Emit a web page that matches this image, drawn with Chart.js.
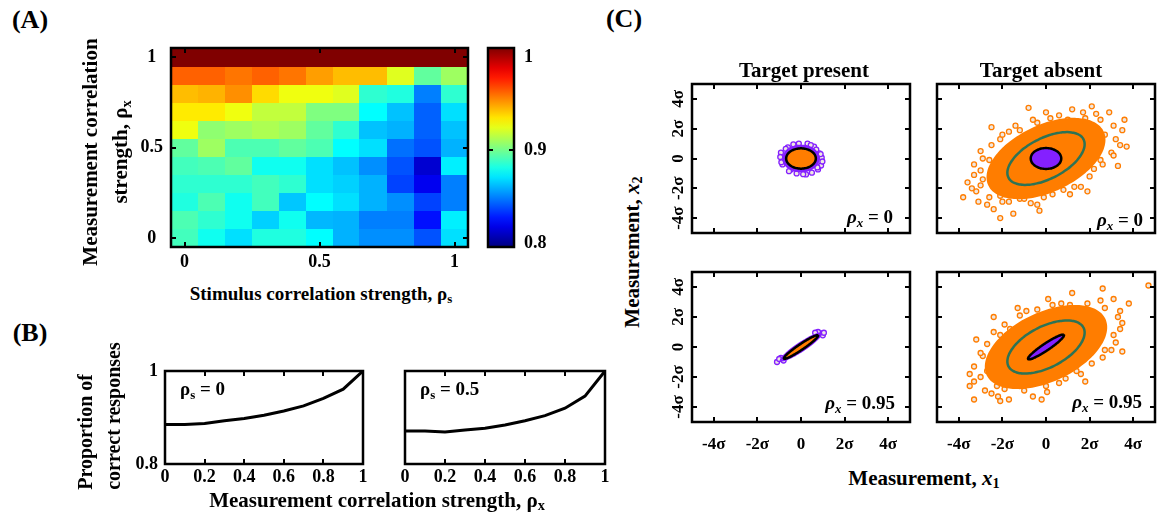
<!DOCTYPE html>
<html>
<head>
<meta charset="utf-8">
<script src="https://cdn.jsdelivr.net/npm/chart.js@4.4.0/dist/chart.umd.min.js"></script>
<style>
  body { margin: 0; width: 1163px; height: 521px; position: relative; overflow: hidden; background: #fff;
         font-family: "Liberation Serif", "Times New Roman", serif; font-weight: bold; color: #000; }
  canvas { position: absolute; }
  .c { position: absolute; transform: translate(-50%, -50%); white-space: nowrap; line-height: 1; z-index: 5; }
  .r { position: absolute; transform: translate(-50%, -50%) rotate(-90deg); white-space: nowrap; z-index: 5; }
  .lt { position: absolute; white-space: nowrap; line-height: 1; z-index: 5; }
  sub { font-size: 0.68em; vertical-align: -0.28em; line-height: 0; }
  i { font-style: italic; }
</style>
</head>
<body>

<!-- 面板标签与坐标轴标题 -->
<div class="c" style="left:30px;top:20px;font-size:26px">(A)</div>
<div class="c" style="left:30px;top:333px;font-size:26px">(B)</div>
<div class="c" style="left:624px;top:19px;font-size:26px">(C)</div>

<div class="r" style="left:105px;top:152px;font-size:21px;line-height:30px;text-align:center">Measurement correlation<br>strength, ρ<sub>x</sub></div>
<div class="c" style="left:321px;top:293px;font-size:19px">Stimulus correlation strength, ρ<sub>s</sub></div>

<div class="r" style="left:99px;top:416px;font-size:20px;line-height:28px;text-align:left">Proportion of<br>correct responses</div>
<div class="c" style="left:377px;top:500px;font-size:21px">Measurement correlation strength, ρ<sub>x</sub></div>
<div class="lt" style="left:180px;top:379px;font-size:19px">ρ<sub>s</sub> = 0</div>
<div class="lt" style="left:420px;top:379px;font-size:19px">ρ<sub>s</sub> = 0.5</div>

<div class="c" style="left:804px;top:70px;font-size:21px">Target present</div>
<div class="c" style="left:1041px;top:70px;font-size:21px">Target absent</div>
<div class="r" style="left:632px;top:252px;font-size:21px">Measurement, <i>x</i><sub>2</sub></div>
<div class="c" style="left:924px;top:478px;font-size:21px">Measurement, <i>x</i><sub>1</sub></div>
<div class="lt" style="right:270px;top:207px;font-size:19px"><i>ρ<sub>x</sub></i> = 0</div>
<div class="lt" style="right:20px;top:210px;font-size:19px"><i>ρ<sub>x</sub></i> = 0</div>
<div class="lt" style="right:268px;top:393px;font-size:19px"><i>ρ<sub>x</sub></i> = 0.95</div>
<div class="lt" style="right:21px;top:392px;font-size:19px"><i>ρ<sub>x</sub></i> = 0.95</div>

<script>
// ===== 数据 =====
// (A) 热图：行 = 测量相关 ρx（0 → 1），列 = 刺激相关 ρs（0 → 1）
const rhoS = [0, 0.1, 0.2, 0.3, 0.4, 0.5, 0.6, 0.7, 0.8, 0.9, 1];
const rhoX = [0, 0.1, 0.2, 0.3, 0.4, 0.5, 0.6, 0.7, 0.8, 0.9, 1];
const heatValues = [
  [0.888, 0.878, 0.869, 0.881, 0.881, 0.875, 0.860, 0.853, 0.853, 0.841, 0.869],
  [0.890, 0.884, 0.878, 0.866, 0.878, 0.861, 0.860, 0.850, 0.850, 0.828, 0.872],
  [0.881, 0.890, 0.878, 0.888, 0.864, 0.875, 0.869, 0.860, 0.853, 0.838, 0.850],
  [0.884, 0.884, 0.884, 0.888, 0.884, 0.869, 0.866, 0.860, 0.838, 0.822, 0.850],
  [0.888, 0.890, 0.894, 0.878, 0.878, 0.869, 0.863, 0.853, 0.841, 0.816, 0.872],
  [0.894, 0.906, 0.890, 0.890, 0.894, 0.890, 0.875, 0.869, 0.847, 0.841, 0.860],
  [0.922, 0.903, 0.906, 0.909, 0.906, 0.894, 0.884, 0.863, 0.860, 0.844, 0.863],
  [0.929, 0.929, 0.922, 0.913, 0.913, 0.900, 0.900, 0.875, 0.863, 0.844, 0.869],
  [0.938, 0.940, 0.947, 0.932, 0.922, 0.922, 0.919, 0.884, 0.881, 0.850, 0.884],
  [0.956, 0.956, 0.952, 0.956, 0.952, 0.944, 0.938, 0.938, 0.919, 0.894, 0.906],
  [1.000, 1.000, 1.000, 1.000, 1.000, 1.000, 1.000, 1.000, 1.000, 1.000, 1.000]
];
const heatTicks = [0, 0.5, 1];
const colorbarTicks = [0.8, 0.9, 1];

// (B) 正确率曲线
const bX = [0, 0.1, 0.2, 0.3, 0.4, 0.5, 0.6, 0.7, 0.8, 0.9, 1];
const correctRhoS0 = [0.885, 0.885, 0.887, 0.893, 0.898, 0.905, 0.914, 0.925, 0.941, 0.961, 1.0];
const correctRhoS05 = [0.871, 0.871, 0.869, 0.873, 0.877, 0.884, 0.893, 0.904, 0.920, 0.946, 1.0];
const bXTicks = [0, 0.2, 0.4, 0.6, 0.8, 1];
const bYTicks = [0.8, 1];

// (C) 椭圆：[中心x, 中心y, 长半轴, 短半轴, 倾角(度)]，单位 σ
const presentCloud0 = [0, 0, 0.86, 0.93, 0];
const presentContour0 = [0, 0, 0.68, 0.68, 0];
const absentCloud0 = [0, 0, 3.3, 2.0, 45];
const absentGreen0 = [0, 0, 2.2, 1.2, 45];
const absentContour0 = [0, 0, 0.7, 0.7, 0];
const presentCloud95 = [0, 0, 1.35, 0.28, 45];
const presentContour95 = [0, 0, 1.1, 0.16, 45];
const absentCloud95 = [0, 0, 3.4, 2.05, 45];
const absentGreen95 = [0, 0, 2.2, 1.2, 45];
const absentContour95 = [0, 0, 1.15, 0.2, 45];

// (C) 散点云边缘的离散样本点
const presentPts0 = [[-0.92, 0.4], [0.92, -0.47], [0.78, -0.73], [0.23, -1.07], [0.6, 0.8], [-0.1, 1.0],
  [-0.78, -0.07], [-0.46, -0.73], [0.85, 0.35], [-0.6, 0.75], [0.3, 1.0], [-0.85, -0.4], [0.5, -0.95],
  [-0.2, -1.0], [0.95, 0.05], [0.7, 0.6], [-0.95, 0.1], [0.9, 0.3], [-0.7, 0.65], [0.45, 0.9],
  [-0.35, 0.95], [0.75, -0.6], [-0.55, -0.85], [0.1, -1.05], [0.98, -0.2], [-0.9, -0.25]];
const absentPts0 = [[-3.8, -2.6], [-2.1, -4.0], [-1.5, -3.7], [-0.8, 3.4], [2.1, 3.5], [2.9, 3.1], [3.5, 1.9],
  [3.7, 0.8], [3.4, 0.9], [3.0, 0.4], [-3.0, 0.5], [-3.3, -0.4], [-3.3, -1.1], [-3.2, -2.2], [-2.7, -3.1],
  [-1.7, -2.9], [-0.7, -3.0], [-0.4, -3.1], [0.3, -2.4], [1.1, -2.4], [-2.1, 1.3], [-1.7, 1.8], [-1.2, 1.9],
  [-0.4, 2.4], [0.6, 2.9], [1.2, 3.3], [1.7, 3.1], [2.5, 2.6], [2.7, 1.6], [2.5, -0.1], [2.2, -0.7],
  [1.6, -1.9], [-2.6, -0.1], [-2.9, -1.4], [-2.1, -2.5], [-1.2, -2.7],
  [-3.4, -2.0], [-3.0, -1.8], [-2.6, -2.6], [-3.1, -2.9], [-2.0, -2.9], [-1.0, -2.7], [-0.1, -2.6],
  [0.8, -2.1], [1.3, -1.9], [2.0, -1.2], [2.6, -0.4], [3.1, 0.2], [3.2, 1.3], [3.1, 2.2], [2.3, 3.0],
  [1.8, 2.7], [1.0, 2.6], [0.2, 2.7], [-0.6, 2.6], [-1.4, 2.2], [-2.0, 1.6], [-2.5, 0.9], [-2.9, 0.0],
  [-3.0, -0.8], [-3.6, -1.6], [-2.4, -3.4], [-0.3, -3.5], [1.9, -2.2], [3.3, -0.5], [3.6, 2.6], [0.0, 3.1],
  [-2.5, 2.1]];
const presentPts95 = [[-1.1, -1.0], [0.92, 0.9], [0.78, 1.0], [-0.92, -0.72], [1.0, 0.78], [-0.8, -0.9],
  [0.65, 0.95], [1.05, 0.95], [-1.0, -0.8]];
const absentPts95 = [[4.7, 4.1], [2.6, 3.9], [3.1, 3.2], [3.4, 2.4], [3.5, 1.6], [2.7, 2.6], [1.2, 3.6],
  [0.7, 2.9], [-0.9, 2.4], [-1.3, 2.6], [-1.65, 1.2], [-2.1, 0.8], [-3.2, 0.5], [-2.9, -0.6], [-3.3, -1.3],
  [-3.5, -1.8], [-3.3, -2.3], [-3.3, -3.5], [-2.5, -3.1], [-1.7, -3.5], [-2.2, -3.3], [-0.6, -3.3],
  [0.05, -3.0], [0.6, -2.4], [1.6, -1.8], [2.6, -0.7], [3.0, -0.2], [3.1, 0.8], [2.2, 1.1], [-2.25, -2.6],
  [-1.2, -2.6],
  [-3.0, -2.0], [-2.7, -1.6], [-3.5, -2.6], [-2.8, -2.9], [-1.9, -2.8], [-1.0, -2.9], [0.0, -2.6],
  [0.9, -2.1], [1.4, -1.6], [2.1, -1.1], [2.7, -0.2], [3.2, 0.3], [3.4, 1.2], [3.3, 2.0], [2.5, 3.1],
  [1.9, 2.9], [1.1, 2.8], [0.3, 2.8], [-0.4, 2.5], [-1.2, 2.1], [-1.9, 1.5], [-2.4, 1.0], [-2.7, 0.2],
  [-3.0, -0.4], [-2.1, -3.6], [-0.2, -3.5], [1.8, -2.3], [3.5, -0.3], [3.8, 2.9], [0.1, 3.2], [-2.4, 2.0]];
const cTicks = [-4, -2, 0, 2, 4];
const cTickLabels = ['-4σ', '-2σ', '0', '2σ', '4σ'];

// ===== 样式 =====
const ORANGE = '#ff7d00';
const PURPLE = '#8420ff';
const GREEN = '#2d7355';

Chart.defaults.font.family = '"Liberation Serif", "Times New Roman", serif';
Chart.defaults.font.weight = 'bold';
Chart.defaults.color = '#000';

// jet 色图
function jet(t) {
  const c = v => Math.round(255 * Math.min(1, Math.max(0, v)));
  t = Math.min(1, Math.max(0, t));
  return `rgb(${c(1.5 - Math.abs(4 * t - 3))},${c(1.5 - Math.abs(4 * t - 2))},${c(1.5 - Math.abs(4 * t - 1))})`;
}

// 椭圆轮廓点
function ellipsePts(e) {
  const pts = [];
  const th = e[4] * Math.PI / 180;
  for (let i = 0; i <= 90; i++) {
    const t = i / 90 * 2 * Math.PI;
    const u = e[2] * Math.cos(t), v = e[3] * Math.sin(t);
    pts.push({ x: e[0] + u * Math.cos(th) - v * Math.sin(th), y: e[1] + u * Math.sin(th) + v * Math.cos(th) });
  }
  return pts;
}

// 刻度文字：1 而不是 1.0
const plainNum = v => String(Math.round(v * 100) / 100);

// 边框与向内刻度
function framePlugin(xTicks, yTicks) {
  return {
    id: 'frame',
    afterDatasetsDraw(chart) {
      const { ctx, chartArea: a, scales } = chart;
      ctx.save();
      ctx.strokeStyle = '#000';
      ctx.lineWidth = 2;
      ctx.beginPath();
      xTicks.forEach(v => {
        const px = Math.round(scales.x.getPixelForValue(v));
        ctx.moveTo(px, a.top); ctx.lineTo(px, a.top + 5);
        ctx.moveTo(px, a.bottom); ctx.lineTo(px, a.bottom - 5);
      });
      yTicks.forEach(v => {
        const py = Math.round(scales.y.getPixelForValue(v));
        ctx.moveTo(a.left, py); ctx.lineTo(a.left + 5, py);
        ctx.moveTo(a.right, py); ctx.lineTo(a.right - 5, py);
      });
      ctx.stroke();
      ctx.lineWidth = 2.5;
      ctx.strokeRect(a.left, a.top, a.right - a.left, a.bottom - a.top);
      ctx.restore();
    }
  };
}

// 热图格子
const heatPlugin = {
  id: 'heat',
  beforeDatasetsDraw(chart) {
    const { ctx, scales: { x, y } } = chart;
    chart.data.datasets[0].data.forEach(p => {
      const x0 = Math.floor(x.getPixelForValue(p.x - 0.05)), x1 = Math.ceil(x.getPixelForValue(p.x + 0.05));
      const y0 = Math.floor(y.getPixelForValue(p.y + 0.05)), y1 = Math.ceil(y.getPixelForValue(p.y - 0.05));
      ctx.fillStyle = jet((p.v - 0.8) / 0.2);
      ctx.fillRect(x0, y0, x1 - x0, y1 - y0);
    });
  }
};

// 色条
const colorbarPlugin = {
  id: 'cbar',
  beforeDatasetsDraw(chart) {
    const { ctx, chartArea: a } = chart;
    const g = ctx.createLinearGradient(0, a.bottom, 0, a.top);
    for (let k = 0; k <= 20; k++) g.addColorStop(k / 20, jet(k / 20));
    ctx.fillStyle = g;
    ctx.fillRect(a.left, a.top, a.right - a.left, a.bottom - a.top);
  }
};

// 把图表放到页面上：area = 绘图区 [左, 上, 右, 下]，space = 四周留白 [左, 上, 右, 下]
function place(area, space, config, yPos = 'left') {
  const c = document.createElement('canvas');
  const w = area[2] - area[0] + space[0] + space[2];
  const h = area[3] - area[1] + space[1] + space[3];
  c.width = w; c.height = h;
  c.style.left = (area[0] - space[0]) + 'px';
  c.style.top = (area[1] - space[1]) + 'px';
  c.style.width = w + 'px'; c.style.height = h + 'px';
  document.body.appendChild(c);
  const o = config.options;
  o.responsive = false;
  o.animation = false;
  o.events = [];
  o.plugins = Object.assign({ legend: { display: false }, tooltip: { enabled: false } }, o.plugins || {});
  o.layout = { padding: { left: yPos === 'left' ? 0 : space[0], right: yPos === 'right' ? 0 : space[2], top: space[1], bottom: 0 } };
  o.scales.x.afterFit = s => { s.height = space[3]; s.paddingLeft = s.paddingRight = s.paddingTop = s.paddingBottom = 0; };
  o.scales.y.afterFit = s => { s.width = yPos === 'left' ? space[0] : space[2]; s.paddingLeft = s.paddingRight = s.paddingTop = s.paddingBottom = 0; };
  o.scales.y.position = yPos;
  for (const k of ['x', 'y']) {
    o.scales[k].grid = { display: false, drawTicks: false };
    o.scales[k].border = { display: false };
  }
  return new Chart(c, config);
}

function fixedTicks(vals) {
  return s => { s.ticks = vals.map(v => ({ value: v })); };
}

// ===== (A) 热图 =====
const heatData = [];
rhoX.forEach((ry, i) => rhoS.forEach((rs, j) => heatData.push({ x: rs, y: ry, v: heatValues[i][j] })));

place([171, 48, 468, 247], [40, 12, 8, 30], {
  type: 'scatter',
  data: { datasets: [{ data: heatData, pointRadius: 0 }] },
  options: {
    scales: {
      x: { type: 'linear', min: -0.05, max: 1.05, afterBuildTicks: fixedTicks(heatTicks),
           ticks: { font: { size: 18 }, padding: 5, maxRotation: 0, callback: plainNum } },
      y: { type: 'linear', min: -0.05, max: 1.05, afterBuildTicks: fixedTicks(heatTicks),
           ticks: { font: { size: 18 }, padding: 8, crossAlign: 'center', callback: plainNum } }
    }
  },
  plugins: [heatPlugin, framePlugin(heatTicks, heatTicks)]
});

// 色条
place([488, 48, 514, 247], [2, 12, 40, 12], {
  type: 'scatter',
  data: { datasets: [{ data: [], pointRadius: 0 }] },
  options: {
    scales: {
      x: { type: 'linear', min: 0, max: 1, ticks: { display: false } },
      y: { type: 'linear', min: 0.7957, max: 1.0097, afterBuildTicks: fixedTicks(colorbarTicks),
           ticks: { font: { size: 18 }, padding: 10, callback: plainNum } }
    }
  },
  plugins: [colorbarPlugin, framePlugin([], [0.9])]
}, 'right');

// ===== (B) 曲线 =====
function curveChart(area, space, values, showY) {
  return place(area, space, {
    type: 'scatter',
    data: { datasets: [{ type: 'line', data: bX.map((x, i) => ({ x, y: values[i] })),
      borderColor: '#000', borderWidth: 3, pointRadius: 0, tension: 0, fill: false }] },
    options: {
      scales: {
        x: { type: 'linear', min: 0, max: 1, afterBuildTicks: fixedTicks(bXTicks),
             ticks: { font: { size: 18 }, padding: 3, maxRotation: 0, callback: plainNum } },
        y: { type: 'linear', min: 0.8, max: 1, afterBuildTicks: fixedTicks(bYTicks),
             ticks: { display: showY, font: { size: 18 }, padding: 7, callback: plainNum } }
      }
    },
    plugins: [framePlugin([0.2, 0.4, 0.6, 0.8], [])]
  });
}
curveChart([165, 371, 363, 464], [38, 12, 12, 26], correctRhoS0, true);
curveChart([405, 371, 605, 464], [10, 12, 12, 26], correctRhoS05, false);

// ===== (C) 散点 =====
function ptsData(arr) { return arr.map(p => ({ x: p[0], y: p[1] })); }

// tension > 0 以避免折线快速路径把闭合轮廓压扁
function ellipseSet(e, fillColor, border, width) {
  return { type: 'line', data: ellipsePts(e), fill: fillColor ? 'shape' : false, backgroundColor: fillColor || 'transparent',
           borderColor: border || 'transparent', borderWidth: width || 0, pointRadius: 0, tension: 0.3 };
}

function pointSet(arr, color) {
  return { data: ptsData(arr), pointRadius: 2.5, borderWidth: 1.3, borderColor: color, backgroundColor: '#efe7e1' };
}

function sampleChart(area, space, datasets, showX, showY) {
  return place(area, space, {
    type: 'scatter',
    data: { datasets },
    options: {
      scales: {
        x: { type: 'linear', min: -5, max: 5, afterBuildTicks: fixedTicks(cTicks),
             ticks: { display: showX, font: { size: 17 }, padding: 12, maxRotation: 0, callback: (v, i) => cTickLabels[i] } },
        y: { type: 'linear', min: -5, max: 5, afterBuildTicks: fixedTicks(cTicks),
             ticks: { display: showY, font: { size: 17 }, padding: 2, minRotation: 90, maxRotation: 90,
                      crossAlign: 'center', callback: (v, i) => cTickLabels[i] } }
      }
    },
    plugins: [framePlugin(cTicks, cTicks)]
  });
}

// 目标存在，ρx = 0
sampleChart([692, 84, 910, 233], [32, 8, 8, 8], [
  ellipseSet(presentContour0, ORANGE, '#000', 2.5),
  ellipseSet(presentCloud0, PURPLE),
  pointSet(presentPts0, PURPLE)
], false, true);

// 目标不存在，ρx = 0
sampleChart([937, 84, 1155, 233], [8, 8, 8, 8], [
  ellipseSet(absentContour0, PURPLE, '#000', 2.5),
  ellipseSet(absentGreen0, null, GREEN, 2.5),
  ellipseSet(absentCloud0, ORANGE),
  pointSet(absentPts0, ORANGE)
], false, false);

// 目标存在，ρx = 0.95
sampleChart([692, 272, 910, 422], [32, 8, 8, 34], [
  ellipseSet(presentContour95, ORANGE, '#000', 2.5),
  ellipseSet(presentCloud95, PURPLE),
  pointSet(presentPts95, PURPLE)
], true, true);

// 目标不存在，ρx = 0.95
sampleChart([937, 272, 1155, 422], [8, 8, 8, 34], [
  ellipseSet(absentContour95, PURPLE, '#000', 2.5),
  ellipseSet(absentGreen95, null, GREEN, 2.5),
  ellipseSet(absentCloud95, ORANGE),
  pointSet(absentPts95, ORANGE)
], true, false);
</script>
</body>
</html>
